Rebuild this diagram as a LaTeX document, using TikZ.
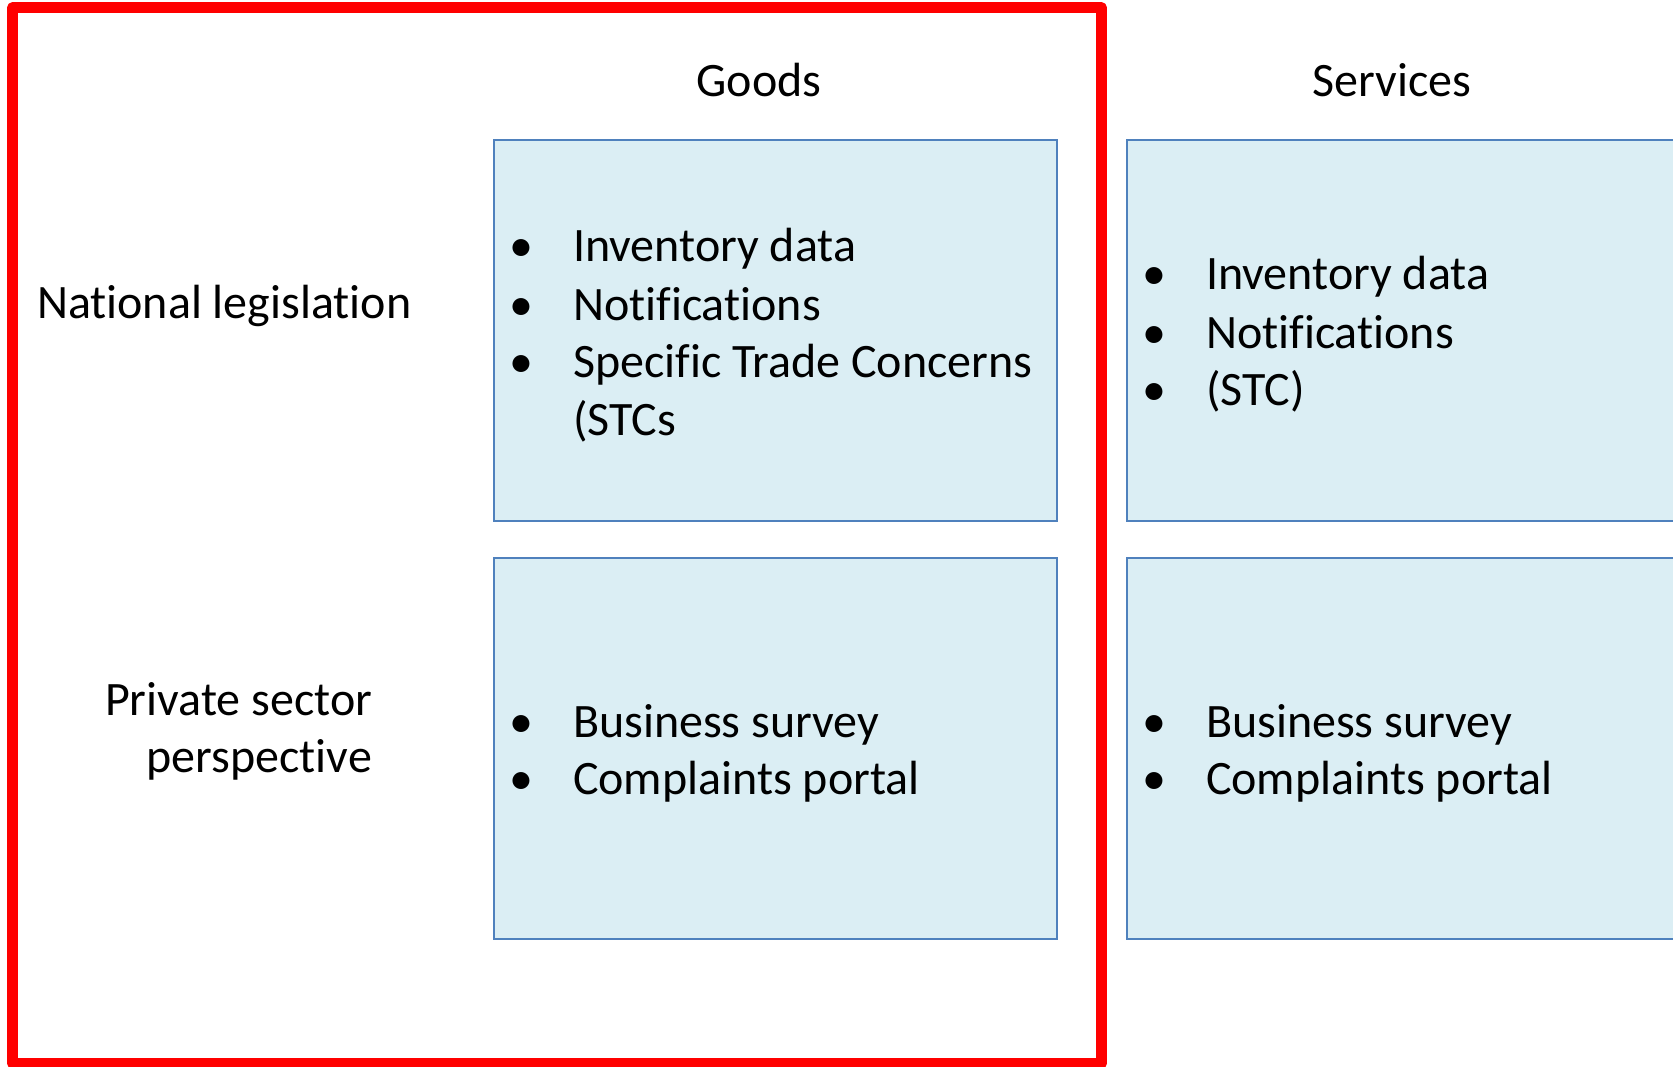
\documentclass[tikz,border=0pt]{standalone}
\usepackage{fontspec}
\setmainfont{Carlito}[Ligatures=CommonOff]
\definecolor{boxfill}{HTML}{DBEEF4}
\definecolor{boxline}{HTML}{4F81BD}
\definecolor{framered}{HTML}{FF0000}
\tikzset{
  cell/.style={draw=boxline, fill=boxfill, line width=2pt},
  txt/.style={inner sep=0pt, outer sep=0pt, anchor=base west, font=\fontsize{48}{57.6}\selectfont},
  head/.style={inner sep=0pt, outer sep=0pt, anchor=base, font=\fontsize{48}{57.6}\selectfont},
  rtxt/.style={inner sep=0pt, outer sep=0pt, anchor=base east, font=\fontsize{48}{57.6}\selectfont},
  bul/.style={inner sep=0pt, outer sep=0pt, anchor=base, font=\fontsize{48}{57.6}\selectfont},
}
\begin{document}
\begin{tikzpicture}[x=1pt,y=-1pt]
\useasboundingbox (0,0) rectangle (1673,1067);
\clip (0,0) rectangle (1673,1067);
\fill[white] (0,0) rectangle (1673,1067);
% boxes
\draw[cell] (494,140) rectangle (1057,521);
\draw[cell] (494,558) rectangle (1057,939);
\draw[cell] (1127,140) rectangle (1700,521);
\draw[cell] (1127,558) rectangle (1700,939);
% red frame
\draw[framered, line width=10.5pt, line join=round] (12.5,7.5) rectangle (1101.5,1063.5);
% headings
\node[head] (goods) at (759,97) {Goods};
\node[head] (services) at (1392,97) {Services};
\node[txt] (natleg) at (37,319) {National legislation};
\node[rtxt] (priv1) at (372,715) {Private sector};
\node[rtxt] (priv2) at (372,772) {perspective};
% goods upper
\node[bul] (gb1) at (521,262) {•};
\node[txt] (g1) at (573,262) {Inventory data};
\node[bul] (gb2) at (521,320) {•};
\node[txt] (g2) at (573,320) {Notifications};
\node[bul] (gb3) at (521,377) {•};
\node[txt] (g3) at (573,377) {Specific Trade Concerns};
\node[txt] (g4) at (573,435) {(STCs};
% goods lower
\node[bul] (gb5) at (521,737) {•};
\node[txt] (g5) at (573,737) {Business survey};
\node[bul] (gb6) at (521,794) {•};
\node[txt] (g6) at (573,794) {Complaints portal};
% services upper
\node[bul] (sb1) at (1154,290) {•};
\node[txt] (s1) at (1206,290) {Inventory data};
\node[bul] (sb2) at (1154,348) {•};
\node[txt] (s2) at (1206,348) {Notifications};
\node[bul] (sb3) at (1154,405) {•};
\node[txt] (s3) at (1206,405) {(STC)};
% services lower
\node[bul] (sb5) at (1154,737) {•};
\node[txt] (s5) at (1206,737) {Business survey};
\node[bul] (sb6) at (1154,794) {•};
\node[txt] (s6) at (1206,794) {Complaints portal};
\end{tikzpicture}
\end{document}
